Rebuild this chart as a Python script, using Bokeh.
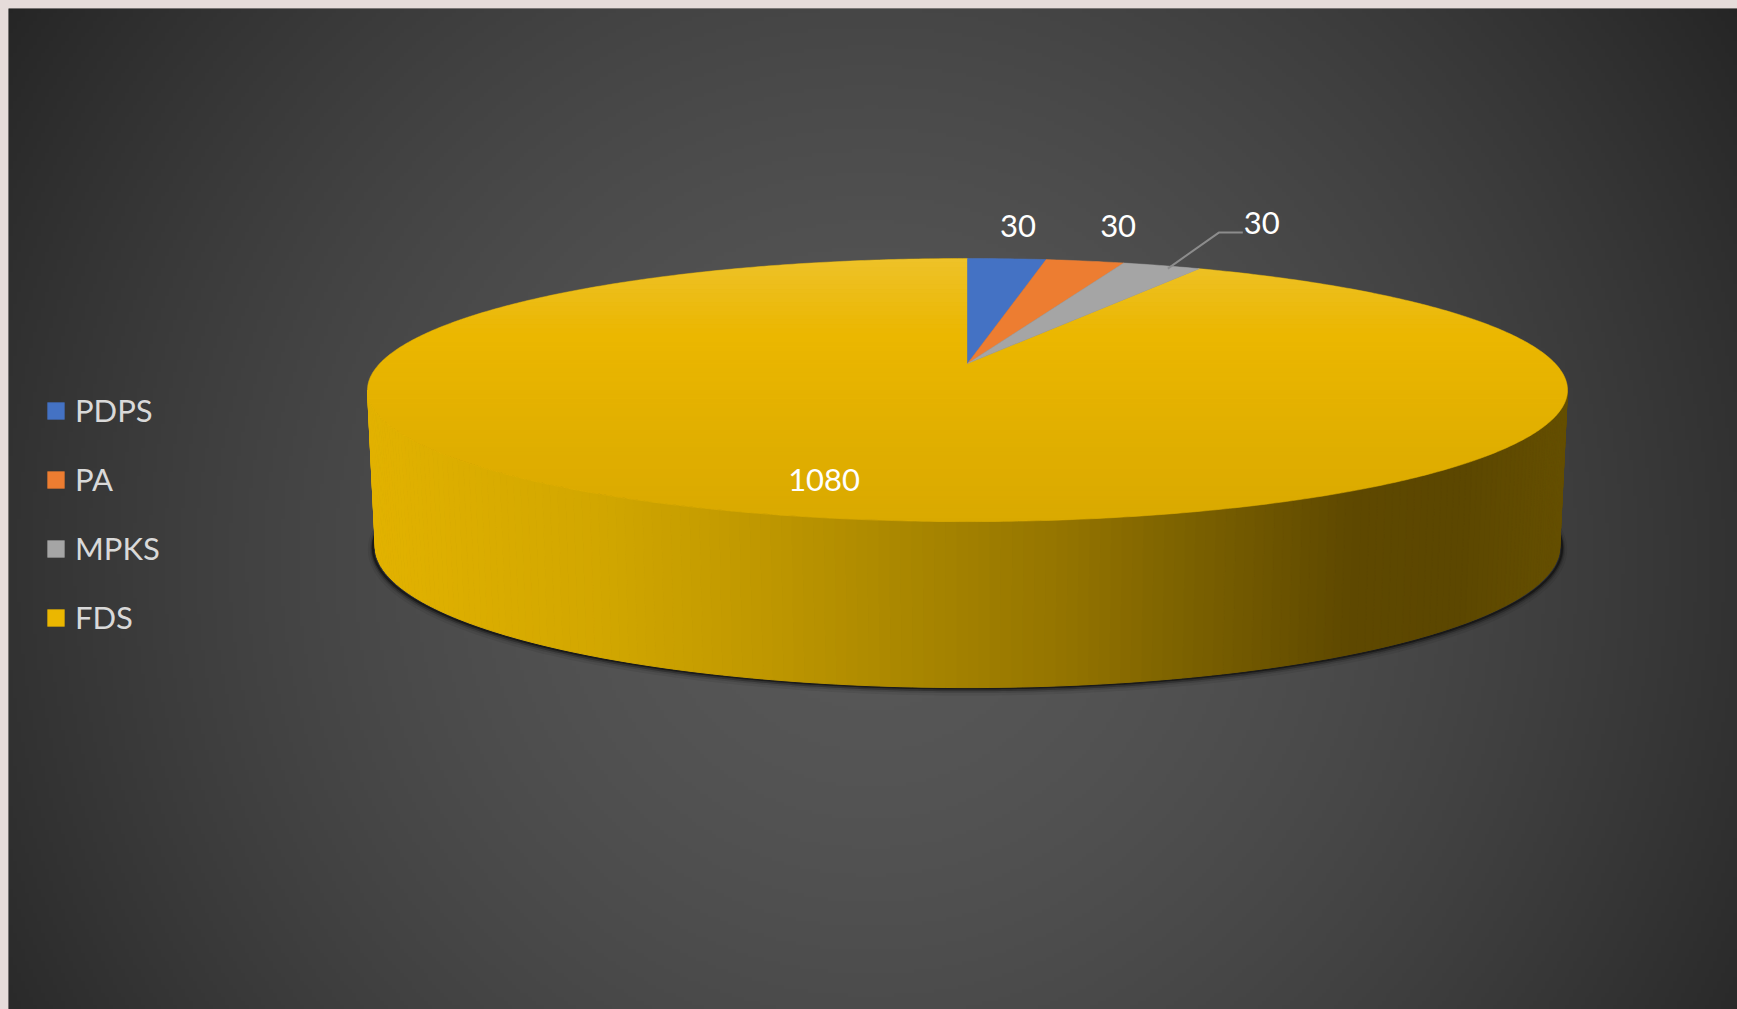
import re
import numpy as np
from bokeh.plotting import figure
from bokeh.models import Range1d, Legend, LegendItem, ColumnDataSource
from bokeh.embed import file_html
from bokeh.resources import INLINE
from bokeh.core.properties import value

# ---------------- data ----------------
categories = ["PDPS", "PA", "MPKS", "FDS"]
values = [30, 30, 30, 1080]
slice_colors = ["#4472c4", "#ed7d31", "#a5a5a5", "#ebb700"]
value_labels = [str(v) for v in values]

# ---------------- layout / projection ----------------
W, H = 1729, 1001
FONT = "Lato"
CX, CY = 967.0, 363.0            # projected pie centre (page px)
SX, SY, K = 587.7, 126.2, 0.2016  # perspective of the top disc
DEPTH, KD, BSHRINK = 154.2, 0.0712, 0.987


def top_pt(r, phi):
    """phi clockwise from 12 o'clock (far side)."""
    wx, wy = r * np.sin(phi), r * np.cos(phi)
    d = 1 + K * wy
    return CX + SX * wx / d, CY - SY * wy / d


def bot_pt(phi):
    x, y = top_pt(1.0, phi)
    wy = np.cos(phi)
    return CX + (x - CX) * BSHRINK, y + DEPTH / (1 + KD * wy)


def Y(y):  # page y -> data y
    return -np.asarray(y)


p = figure(width=W, height=H, x_range=Range1d(8, 8 + W), y_range=Range1d(-(8 + H), -8),
           output_backend="svg", toolbar_location=None, min_border=0)
p.axis.visible = False
p.grid.visible = False
p.outline_line_alpha = 0
p.background_fill_color = "#3a3a3a"
p.border_fill_color = "#3a3a3a"

# ---------------- background radial gradient ----------------
step = 4
gx = np.arange(8, 8 + W, step) + step / 2
gy = (8 + H) - (np.arange(0, H, step) + step / 2)  # row 0 at bottom
XX, YY = np.meshgrid(gx, gy)
dist = np.hypot(XX - 872, YY - 560)
c = 88 - 50 * np.clip(dist / 1024, 0, 1.1) ** 1.67
c = np.clip(c, 34, 90).astype(np.uint32)
img = (255 << 24) | (c << 16) | (c << 8) | c
p.image_rgba(image=[img.view(np.uint32)], x=8, y=-(8 + H), dw=W, dh=H)

# ---------------- geometry ----------------
total = float(sum(values))
starts = np.cumsum([0] + values[:-1]) / total * 2 * np.pi
ends = np.cumsum(values) / total * 2 * np.pi

phi_r = np.arccos(-K)
phi_l = 2 * np.pi - phi_r

# shadow under the wall
ph = np.linspace(phi_r - 0.22, phi_l + 0.22, 300)
bx, by = bot_pt(ph)
sxs = CX + (bx - CX) * 1.004
for w, a, off in [(10, 0.08, 3), (6, 0.16, 2.5), (3.5, 0.35, 2), (2, 0.7, 1)]:
    p.line(sxs, Y(by + off), line_color="#111111", line_width=w, line_alpha=a)

# side wall (vertical strips with a left-to-right shading)
stops_x = [360, 600, 760, 900, 1060, 1200, 1350, 1460, 1570]
stops_c = [(0xe3, 0xb3, 0x00), (0xd2, 0xa7, 0x00), (0xc0, 0x98, 0x00), (0xab, 0x88, 0x00),
           (0x95, 0x75, 0x00), (0x7a, 0x60, 0x00), (0x5f, 0x49, 0x00), (0x5c, 0x47, 0x00),
           (0x66, 0x50, 0x00)]


def wall_color(x):
    r = np.interp(x, stops_x, [s[0] for s in stops_c])
    g = np.interp(x, stops_x, [s[1] for s in stops_c])
    b = np.interp(x, stops_x, [s[2] for s in stops_c])
    return "#%02x%02x%02x" % (int(r), int(g), int(b))


N = 180
ph = np.linspace(phi_r, phi_l, N + 1)
tx, ty = top_pt(1.0, ph)
bx, by = bot_pt(ph)
xs, ys, cols = [], [], []
for i in range(N):
    xs.append([tx[i], tx[i + 1], bx[i + 1], bx[i]])
    ys.append(list(Y([ty[i], ty[i + 1], by[i + 1], by[i]])))
    cols.append(wall_color((tx[i] + tx[i + 1]) / 2))
p.patches(xs="xs", ys="ys", fill_color="c", line_color="c", line_width=1,
          source=ColumnDataSource(dict(xs=xs, ys=ys, c=cols)))


def slice_poly(a0, a1):
    ph = np.linspace(a0, a1, max(4, int((a1 - a0) / 0.01)))
    x, y = top_pt(1.0, ph)
    return [CX] + list(x), list(Y([CY] + list(y)))


renderers = {}
# big slice first
fx, fy = slice_poly(starts[3], ends[3])
renderers["FDS"] = p.patch(fx, fy, fill_color=slice_colors[3], line_color=slice_colors[3], line_width=0.5)

# top-face shading bands (over whole ellipse, small slices drawn afterwards)
ytop = top_pt(1.0, 0.0)[1]
ybot = top_pt(1.0, np.pi)[1]
ecy = (ytop + ybot) / 2
eb = (ybot - ytop) / 2
ea = SX / np.sqrt(1 - K ** 2)
NB = 60
edges = np.linspace(ytop, ybot, NB + 1)
bxs, bys, bcol, balpha = [], [], [], []
for i in range(NB):
    yy = np.linspace(edges[i], edges[i + 1], 6)
    half = ea * np.sqrt(np.clip(1 - ((yy - ecy) / eb) ** 2, 0, 1))
    bxs.append(list(CX - half) + list((CX + half)[::-1]))
    bys.append(list(Y(yy)) + list(Y(yy[::-1])))
    ym = (edges[i] + edges[i + 1]) / 2
    if ym < 335:
        bcol.append("#ffffff")
        balpha.append(0.16 * (335 - ym) / (335 - ytop))
    else:
        bcol.append("#000000")
        balpha.append(0.075 * (ym - 335) / (ybot - 335))
p.patches(xs="xs", ys="ys", fill_color="c", fill_alpha="a", line_alpha=0,
          source=ColumnDataSource(dict(xs=bxs, ys=bys, c=bcol, a=balpha)))

for i in range(3):
    sx_, sy_ = slice_poly(starts[i], ends[i])
    renderers[categories[i]] = p.patch(sx_, sy_, fill_color=slice_colors[i],
                                       line_color=slice_colors[i], line_width=0.5)

# ---------------- data labels ----------------
mids = (starts + ends) / 2
label_offsets = [(11, -33), (33, -35), (100, -43), (0, 0)]
lx, ly = [], []
for i in range(4):
    r = 1.0 if i < 3 else 0.8
    ax_, ay_ = top_pt(r, mids[i])
    if i == 3:
        ax_ -= 10
    lx.append(ax_ + label_offsets[i][0])
    ly.append(ay_ + label_offsets[i][1])

# leader line for the crowded third label
a3x, a3y = top_pt(1.0, mids[2])
p.line([a3x + 6, lx[2] - 43, lx[2] - 19], list(Y([a3y + 3, ly[2] + 10, ly[2] + 10])),
       line_color="#8c8c8c", line_width=2)

p.text(x=lx, y=list(Y(ly)), text=value_labels, text_font=value(FONT), text_font_size="31px",
       text_color="#ffffff", text_align="center", text_baseline="middle")

# ---------------- legend ----------------
legend = Legend(items=[LegendItem(label=c, renderers=[renderers[c]]) for c in categories],
                location=(37, 373), orientation="vertical",
                glyph_width=21, glyph_height=21, label_standoff=9, spacing=31,
                label_text_font=FONT, label_text_font_size="31px", label_text_color="#d9d9d9",
                padding=0, margin=0, border_line_alpha=0, background_fill_alpha=0)
p.add_layout(legend)

html = file_html(p, INLINE)
css = ("<style>html,body{margin:0 !important;padding:0 !important;overflow:hidden !important;"
       "background-color:#e6dcda !important;}"
       "body{padding:8px 0 0 8px !important;box-sizing:border-box !important;}</style>")
html = html.replace("</head>", css + "</head>", 1)
html = re.sub(r"<body[^>]*>", '<body style="margin:0;padding:8px 0 0 8px;overflow:hidden;background-color:#e6dcda;">', html, count=1)
open("out.html", "w").write(html)
